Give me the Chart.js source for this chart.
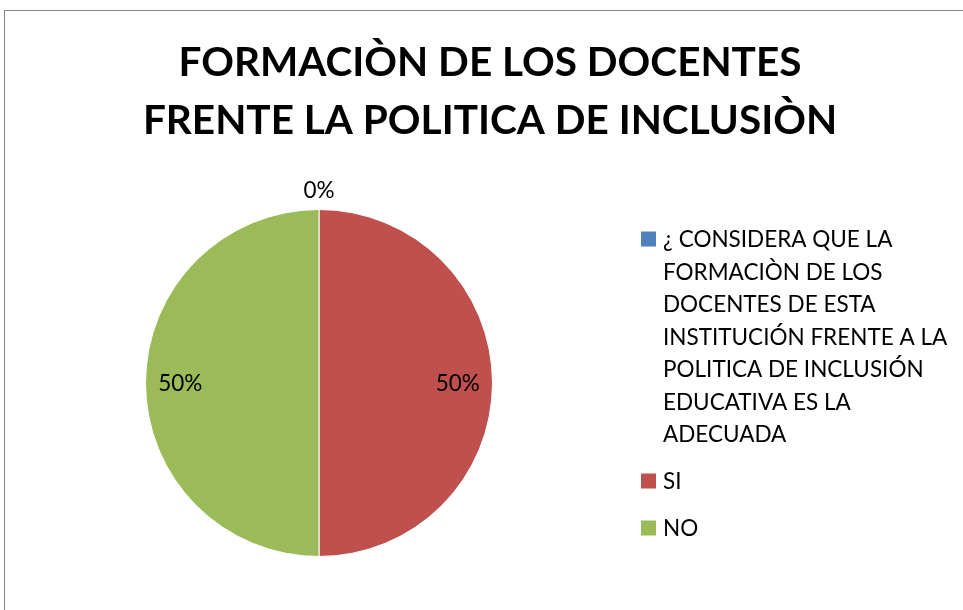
<!DOCTYPE html>
<html>
<head>
<meta charset="utf-8">
<script src="https://cdn.jsdelivr.net/npm/chart.js@4.4.1/dist/chart.umd.min.js"></script>
<style>
    html, body { margin: 0; padding: 0; background: #fff; overflow: hidden; }
    #wrap { position: relative; width: 963px; height: 610px; }
    #frame {
        position: absolute; left: 4px; top: 10px; width: 1000px; height: 700px;
        border: 1px solid #868686; box-sizing: border-box;
    }
    #pieChart { position: absolute; left: 0; top: 0; }
</style>
</head>
<body>
<div id="wrap">
    <div id="frame"></div>
    <canvas id="pieChart" width="963" height="610"></canvas>
</div>
<script>
// chart data
const titleLines = ['FORMACIÒN DE LOS DOCENTES', 'FRENTE LA POLITICA DE INCLUSIÒN'];
const categories = [
    '¿ CONSIDERA QUE LA FORMACIÒN DE LOS DOCENTES DE ESTA INSTITUCIÓN FRENTE A LA POLITICA DE INCLUSIÓN EDUCATIVA ES LA ADECUADA',
    'SI',
    'NO'
];
const legendLines = [
    ['¿ CONSIDERA QUE LA', 'FORMACIÒN DE LOS', 'DOCENTES DE ESTA', 'INSTITUCIÓN FRENTE A LA', 'POLITICA DE INCLUSIÓN', 'EDUCATIVA ES LA', 'ADECUADA'],
    ['SI'],
    ['NO']
];
const values = [0, 50, 50];
const sliceColors = ['#4F81BD', '#C0504D', '#9BBB59'];

const FONT = 'Lato, "Open Sans", sans-serif';

const excelPlugin = {
    id: 'excelPlugin',
    afterDraw(chart) {
        const ctx = chart.ctx;
        ctx.save();
        ctx.fillStyle = '#000';

        // title
        ctx.font = 'bold 40.5px ' + FONT;
        ctx.textAlign = 'center';
        ctx.textBaseline = 'alphabetic';
        titleLines.forEach((line, i) => {
            ctx.fillText(line, 490, 76 + i * 58);
        });

        // percentage labels
        const total = values.reduce((a, b) => a + b, 0);
        const arcs = chart.getDatasetMeta(0).data;
        ctx.font = '22.5px ' + FONT;
        arcs.forEach((arc, i) => {
            const p = arc.getProps(['x', 'y', 'startAngle', 'endAngle', 'outerRadius'], true);
            const mid = (p.startAngle + p.endAngle) / 2;
            const r = values[i] > 0 ? p.outerRadius * 0.8 : p.outerRadius + 20;
            const tx = p.x + Math.cos(mid) * r;
            const ty = p.y + Math.sin(mid) * r;
            const pct = Math.round(values[i] / total * 100) + '%';
            ctx.fillText(pct, tx, ty + 8);
        });

        // legend
        ctx.textAlign = 'left';
        let y = 239;
        legendLines.forEach((lines, i) => {
            ctx.fillStyle = sliceColors[i];
            ctx.fillRect(641, y - 7.5, 15, 15);
            ctx.fillStyle = '#000';
            lines.forEach((line, j) => {
                ctx.fillText(line, 663, y + j * 32.5 + 8);
            });
            y += (lines.length - 1) * 32.5 + 47;
        });
        ctx.restore();
    }
};

new Chart(document.getElementById('pieChart'), {
    type: 'pie',
    data: {
        labels: categories,
        datasets: [{
            data: values,
            backgroundColor: sliceColors,
            borderColor: '#ffffff',
            borderWidth: 1
        }]
    },
    options: {
        responsive: false,
        animation: false,
        layout: { padding: { left: 145, right: 470, top: 209, bottom: 53 } },
        plugins: {
            legend: { display: false },
            title: { display: false },
            tooltip: { enabled: false }
        }
    },
    plugins: [excelPlugin]
});
</script>
</body>
</html>
